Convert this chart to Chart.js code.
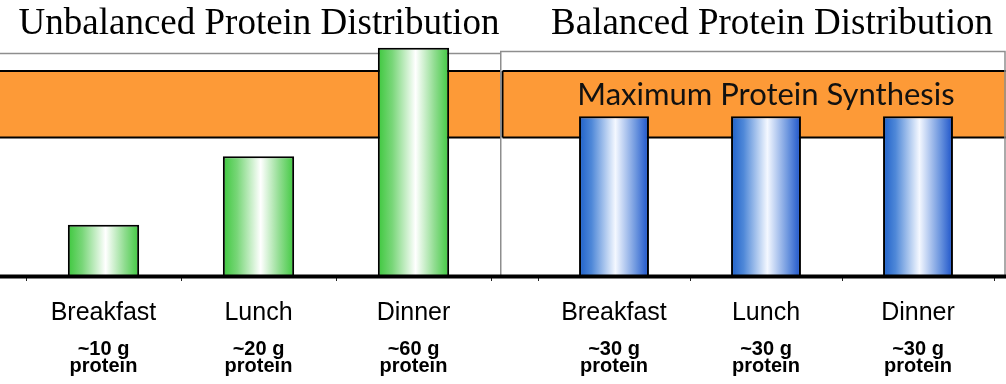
<!DOCTYPE html>
<html>
<head>
<meta charset="utf-8">
<script src="https://cdn.jsdelivr.net/npm/chart.js@4/dist/chart.umd.min.js"></script>
<style>
  html, body { margin: 0; padding: 0; background: #fff; overflow: hidden; }
  #wrap { position: relative; width: 1006px; height: 384px; }
  #unbalanced { position: absolute; left: 0; top: 0; }
  #balanced { position: absolute; left: 500px; top: 0; }
</style>
</head>
<body>
<div id="wrap">
  <canvas id="unbalanced" width="500" height="384"></canvas>
  <canvas id="balanced" width="506" height="384"></canvas>
</div>
<script>
// Meals and grams of protein eaten at each one
const meals = ['Breakfast', 'Lunch', 'Dinner'];
const unbalancedGrams = [10, 20, 60];
const balancedGrams = [30, 30, 30];
const unbalancedAmounts = ['~10 g', '~20 g', '~60 g'];
const balancedAmounts = ['~30 g', '~30 g', '~30 g'];
const amountUnit = 'protein';

// Range (g) where muscle protein synthesis is maxed out, and the value axis range (g)
const synthesisBand = [24.2, 47.4];
const gramsAxis = [5.96, 58.0];

const panelTitles = ['Unbalanced Protein Distribution', 'Balanced Protein Distribution'];
const bandText = 'Maximum Protein Synthesis';

const BAR_FRACTION = 0.46;

// Horizontal "cylinder" shading across each bar
function barShade(stops) {
  return (c) => {
    const chart = c.chart;
    if (!chart.chartArea) return stops[0][1];
    const xs = chart.scales.x;
    const cx = xs.getPixelForValue(c.dataIndex);
    const half = (xs.width / meals.length) * BAR_FRACTION / 2;
    const g = chart.ctx.createLinearGradient(cx - half, 0, cx + half, 0);
    stops.forEach(([p, col]) => g.addColorStop(p, col));
    return g;
  };
}
const greenStops = [[0, '#3ec83e'], [0.2, '#78d678'], [0.53, '#ffffff'], [0.8, '#8edc8e'], [1, '#40c940']];
const blueStops = [[0, '#1e60c9'], [0.18, '#4f88d8'], [0.52, '#f4f8ff'], [0.82, '#6a94de'], [1, '#1b52c9']];

// Band, frame, baseline, titles
const panelDecor = {
  id: 'panelDecor',
  beforeDatasetsDraw(chart, args, o) {
    const { ctx, chartArea, scales: { y } } = chart;
    const W = chart.width;
    const bTop = y.getPixelForValue(synthesisBand[1]);
    const bBot = y.getPixelForValue(synthesisBand[0]);
    ctx.save();
    // orange band
    ctx.fillStyle = '#fd9a37';
    ctx.fillRect(o.bandLeft, bTop, o.bandRight - o.bandLeft, bBot - bTop);
    ctx.strokeStyle = '#000';
    ctx.lineWidth = 2;
    ctx.beginPath();
    ctx.moveTo(o.bandLeft, bTop); ctx.lineTo(o.bandRight, bTop);
    ctx.moveTo(o.bandLeft, bBot); ctx.lineTo(o.bandRight, bBot);
    if (o.bandEdge) { ctx.moveTo(o.bandLeft, bTop); ctx.lineTo(o.bandLeft, bBot); }
    ctx.stroke();
    // grey frame or top rule
    ctx.strokeStyle = '#8e8e8e';
    ctx.lineWidth = 1.5;
    ctx.beginPath();
    if (o.frame) {
      ctx.moveTo(0.75, chartArea.bottom);
      ctx.lineTo(0.75, o.frameTop);
      ctx.lineTo(W - 1, o.frameTop);
      ctx.lineTo(W - 1, chartArea.bottom);
    } else {
      ctx.moveTo(0, o.frameTop); ctx.lineTo(W, o.frameTop);
    }
    ctx.stroke();
    // band caption
    if (o.caption) {
      ctx.fillStyle = '#111';
      ctx.font = '31px Lato';
      ctx.textAlign = 'center';
      ctx.textBaseline = 'alphabetic';
      ctx.fillText(o.caption, (chartArea.left + chartArea.right) / 2 + o.captionShift, (bTop + bBot) / 2 + 0.5);
    }
    ctx.restore();
  },
  afterDraw(chart, args, o) {
    const { ctx, chartArea } = chart;
    ctx.save();
    ctx.strokeStyle = '#000';
    ctx.lineWidth = 4;
    ctx.beginPath();
    ctx.moveTo(0, chartArea.bottom + 0.5);
    ctx.lineTo(chart.width, chartArea.bottom + 0.5);
    ctx.stroke();
    ctx.fillStyle = '#000';
    ctx.font = '37px "Liberation Serif"';
    ctx.textAlign = 'center';
    ctx.textBaseline = 'alphabetic';
    ctx.fillText(o.title, o.titleX, 34);
    ctx.restore();
  }
};

function makePanel(id, grams, amounts, stops, pad, decor) {
  return new Chart(document.getElementById(id), {
    type: 'bar',
    data: {
      labels: meals,
      datasets: [{
        data: grams,
        backgroundColor: barShade(stops),
        borderColor: '#000',
        borderWidth: 2,
        barPercentage: BAR_FRACTION,
        categoryPercentage: 1,
        clip: false
      }]
    },
    options: {
      responsive: false,
      animation: false,
      events: [],
      layout: { padding: pad },
      plugins: { legend: { display: false }, title: { display: false }, tooltip: { enabled: false }, panelDecor: decor },
      scales: {
        y: { type: 'logarithmic', min: gramsAxis[0], max: gramsAxis[1], display: false },
        x: {
          position: 'bottom',
          weight: 0,
          grid: { display: true, drawOnChartArea: false, drawTicks: true, tickLength: 5, color: '#222', lineWidth: 1 },
          border: { display: false },
          ticks: { color: '#000', padding: 17, font: { family: 'Liberation Sans', size: 25, lineHeight: 1.2 } },
          afterFit: (s) => { s.height = 50; }
        },
        x2: {
          type: 'category',
          position: 'bottom',
          weight: 1,
          offset: true,
          grid: { display: false },
          border: { display: false },
          ticks: {
            color: '#000', padding: 7,
            font: { family: 'Liberation Sans', size: 20, weight: 'bold', lineHeight: 0.85 },
            callback: (v, i) => [amounts[i], amountUnit]
          },
          afterFit: (s) => { s.height = 58; }
        }
      }
    },
    plugins: [panelDecor]
  });
}

makePanel('unbalanced', unbalancedGrams, unbalancedAmounts, greenStops,
  { top: 51, left: 26, right: 9, bottom: 0 },
  { title: panelTitles[0], titleX: 259, bandLeft: 0, bandRight: 500, bandEdge: false, frame: false, frameTop: 53.5, caption: null });

makePanel('balanced', balancedGrams, balancedAmounts, blueStops,
  { top: 51, left: 38, right: 12, bottom: 0 },
  { title: panelTitles[1], titleX: 272, bandLeft: 2.5, bandRight: 506, bandEdge: true, frame: true, frameTop: 51.5, caption: bandText, captionShift: 0 });
</script>
</body>
</html>
